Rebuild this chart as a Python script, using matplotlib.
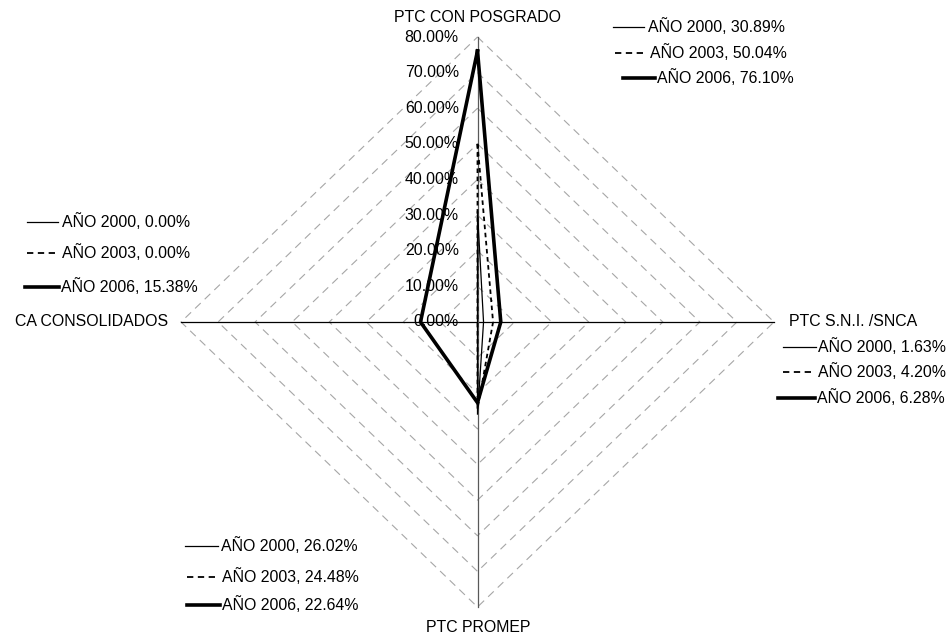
import numpy as np
import matplotlib
matplotlib.use("Agg")
from matplotlib import pyplot as plt
from matplotlib.lines import Line2D

plt.rcParams['font.family'] = ['Liberation Sans', 'DejaVu Sans']

CATEGORIES = ["PTC CON POSGRADO", "PTC S.N.I. /SNCA", "PTC PROMEP", "CA CONSOLIDADOS"]
YEARS = ["AÑO 2000", "AÑO 2003", "AÑO 2006"]
VALS_2000 = [30.89, 1.63, 26.02, 0.00]
VALS_2003 = [50.04, 4.20, 24.48, 0.00]
VALS_2006 = [76.10, 6.28, 22.64, 15.38]
TICKS = [0, 10, 20, 30, 40, 50, 60, 70, 80]

W, H = 948, 637
CX, CY = 477.5, 322
SX, SY = 296.5 / 80, 285 / 80   # px per percent
FS = 11.4

STYLES = [dict(color="black", lw=0.9, ls="-"),
          dict(color="black", lw=1.3, ls=(0, (2.5, 2))),
          dict(color="black", lw=2.6, ls="-")]
KEY_STYLES = [dict(color="black", lw=0.9, ls="-"),
              dict(color="black", lw=1.3, ls=(0, (3.5, 2.5))),
              dict(color="black", lw=2.6, ls="-")]


def to_xy(vals):
    # clockwise from top: top, right, bottom, left
    ang = np.array([90, 0, -90, 180]) * np.pi / 180
    v = np.array(vals, dtype=float)
    x = v * np.cos(ang)
    y = v * np.sin(ang)
    return np.append(x, x[0]), np.append(y, y[0])


def fx(px):
    return px / W


def fy(py):
    return 1 - py / H


def label_block(fig, lines, text_x, ys, vals):
    for i, (x0, x1) in enumerate(lines):
        fig.add_artist(Line2D([fx(x0), fx(x1)], [fy(ys[i]), fy(ys[i])],
                              transform=fig.transFigure, **KEY_STYLES[i]))
        fig.text(fx(text_x[i]), fy(ys[i]), f"{YEARS[i]}, {vals[i]:.2f}%",
                 ha="left", va="center", fontsize=FS)


def main():
    fig = plt.figure(figsize=(W / 100, H / 100), dpi=100)
    ax = fig.add_axes([0, 0, 1, 1])
    ax.set_xlim(-CX / SX, (W - CX) / SX)
    ax.set_ylim(-(H - CY) / SY, CY / SY)
    ax.axis("off")

    # grid diamonds
    for t in TICKS[1:]:
        gx, gy = to_xy([t] * 4)
        ax.plot(gx, gy, color="#a6a6a6", lw=0.8, ls=(0, (7, 5)), zorder=1)

    # spokes
    ax.plot([-80, 80], [0, 0], color="black", lw=0.9, zorder=2)
    ax.plot([0, 0], [-80, 80], color="#595959", lw=0.9, zorder=2)

    # tick labels
    for t in TICKS:
        ax.annotate(f"{t:.2f}%", (0, t), xytext=(-13.5, 0), textcoords="offset points",
                    ha="right", va="center", fontsize=FS, zorder=3)

    for vals, st in zip([VALS_2000, VALS_2003, VALS_2006], STYLES):
        x, y = to_xy(vals)
        ax.plot(x, y, zorder=4, solid_joinstyle="miter", **st)

    # category labels
    fig.text(fx(477), fy(17), CATEGORIES[0], ha="center", va="center", fontsize=FS)
    fig.text(fx(789), fy(322), CATEGORIES[1], ha="left", va="center", fontsize=FS)
    fig.text(fx(478), fy(628), CATEGORIES[2], ha="center", va="center", fontsize=FS)
    fig.text(fx(168), fy(322), CATEGORIES[3], ha="right", va="center", fontsize=FS)

    # data labels with keys
    label_block(fig, [(613, 644), (615, 646), (623, 655)], [648, 650, 657],
                [27, 53, 78], [VALS_2000[0], VALS_2003[0], VALS_2006[0]])
    label_block(fig, [(783, 816), (783, 815), (778, 815)], [818, 818, 817],
                [347, 372, 398], [VALS_2000[1], VALS_2003[1], VALS_2006[1]])
    label_block(fig, [(185, 218), (187, 218), (187, 220)], [221, 222, 222],
                [546, 577, 605], [VALS_2000[2], VALS_2003[2], VALS_2006[2]])
    label_block(fig, [(27, 58), (27, 57), (25, 59)], [62, 62, 61],
                [222, 253, 287], [VALS_2000[3], VALS_2003[3], VALS_2006[3]])

    fig.savefig("out.png", dpi=100)


if __name__ == '__main__':
    main()
